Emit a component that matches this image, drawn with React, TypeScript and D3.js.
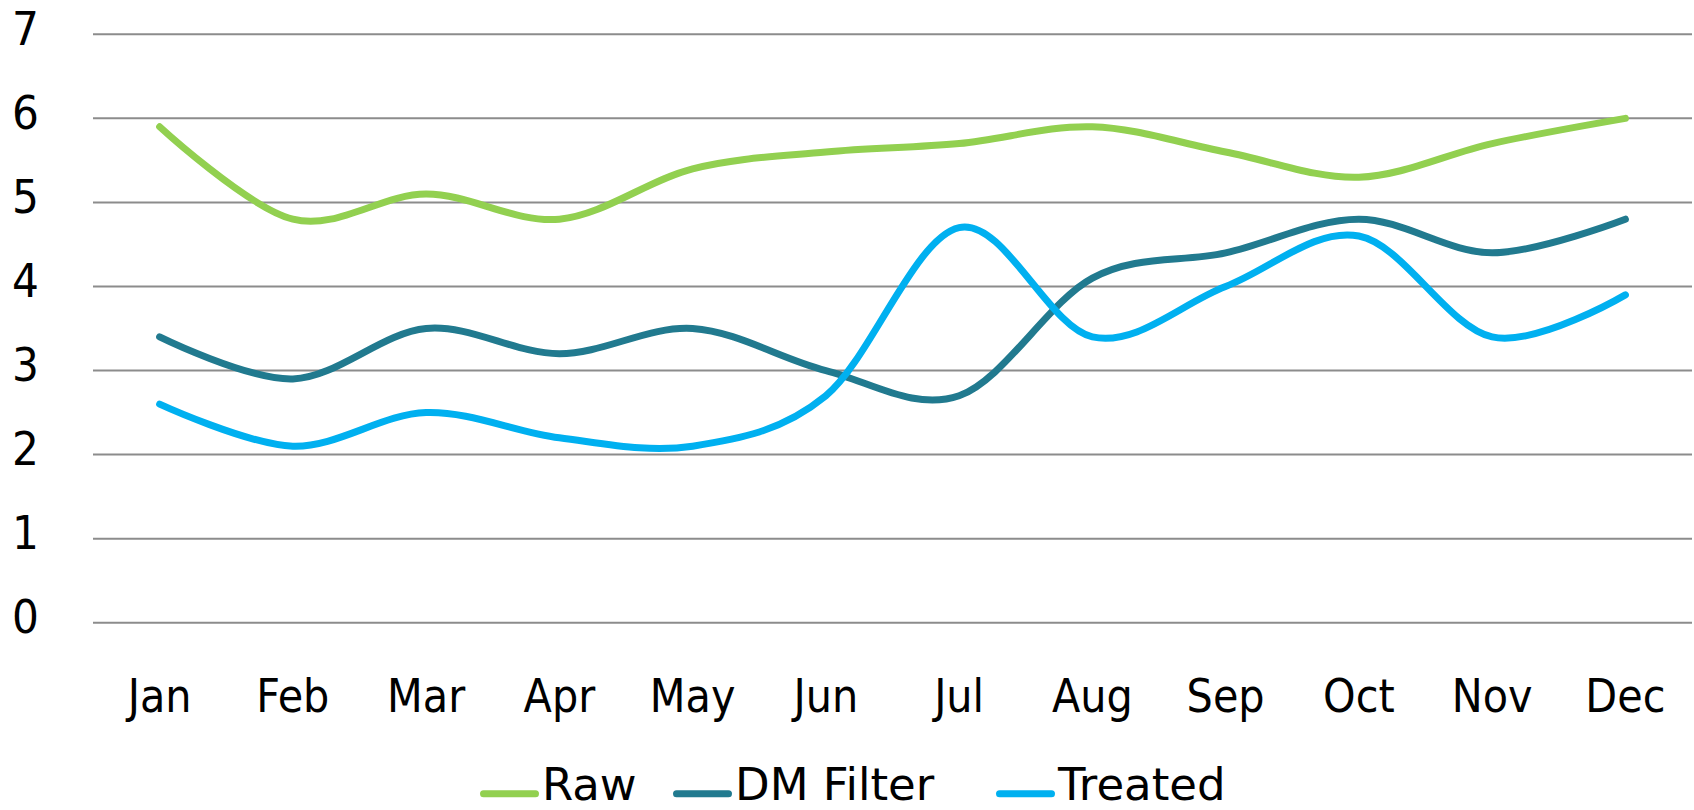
import React from 'react';
import * as d3 from 'd3';

const months = ['Jan', 'Feb', 'Mar', 'Apr', 'May', 'Jun', 'Jul', 'Aug', 'Sep', 'Oct', 'Nov', 'Dec'];
const raw = [5.9, 4.8, 5.1, 4.8, 5.4, 5.6, 5.7, 5.9, 5.6, 5.3, 5.7, 6.0];
const dmFilter = [3.4, 2.9, 3.5, 3.2, 3.5, 3.0, 2.7, 4.1, 4.4, 4.8, 4.4, 4.8];
const treated = [2.6, 2.1, 2.5, 2.2, 2.1, 2.7, 4.7, 3.4, 4.0, 4.6, 3.4, 3.9];
const yTicks = [0, 1, 2, 3, 4, 5, 6, 7];

const seriesNames = ['Raw', 'DM Filter', 'Treated'];
const seriesColors = ['#92d050', '#217a8f', '#00b0f0'];
const seriesValues = [raw, dmFilter, treated];

const width = 1694;
const height = 810;
const font = "'DejaVu Sans Condensed', 'DejaVu Sans', sans-serif";

const x = d3.scaleBand<string>().domain(months).range([93, 1692]).padding(0);
const y = d3.scaleLinear().domain([0, 7]).range([622.7, 34.3]);

const lineGen = d3
  .line<number>()
  .x((_, i) => (x(months[i]) as number) + x.bandwidth() / 2)
  .y(d => y(d))
  .curve(d3.curveCardinal.tension(0));

// legend item start positions (swatch left edge)
const legendX = [480, 673, 996];

const App = () => {
  return (
    <svg
      width={width}
      height={height}
      style={{ position: 'absolute', left: 0, top: 0, fontFamily: font, fontStretch: 'condensed' }}
    >
      <rect width={width} height={height} fill="#fff" />
      {yTicks.map(t => (
        <g key={t}>
          <line x1={93} x2={1692} y1={y(t)} y2={y(t)} stroke="#8c8c8c" strokeWidth={2} />
          <text x={39} y={y(t) + 10.5} textAnchor="end" fontSize={47} fill="#000">
            {t}
          </text>
        </g>
      ))}
      {months.map(m => (
        <text
          key={m}
          x={(x(m) as number) + x.bandwidth() / 2}
          y={711.7}
          textAnchor="middle"
          fontSize={46}
          fill="#000"
        >
          {m}
        </text>
      ))}
      {seriesValues.map((vals, i) => (
        <path
          key={seriesNames[i]}
          d={lineGen(vals) as string}
          fill="none"
          stroke={seriesColors[i]}
          strokeWidth={7}
          strokeLinecap="round"
          strokeLinejoin="round"
        />
      ))}
      {seriesNames.map((name, i) => (
        <g key={name} transform={`translate(${legendX[i]}, 0)`}>
          <line x1={3.5} x2={55.5} y1={793.7} y2={793.7} stroke={seriesColors[i]} strokeWidth={7} strokeLinecap="round" />
          <text
            x={62}
            y={800}
            fontSize={45}
            fill="#000"
            style={{ fontFamily: "'DejaVu Sans', sans-serif", fontStretch: 'normal' }}
          >
            {name}
          </text>
        </g>
      ))}
    </svg>
  );
};

export default App;
